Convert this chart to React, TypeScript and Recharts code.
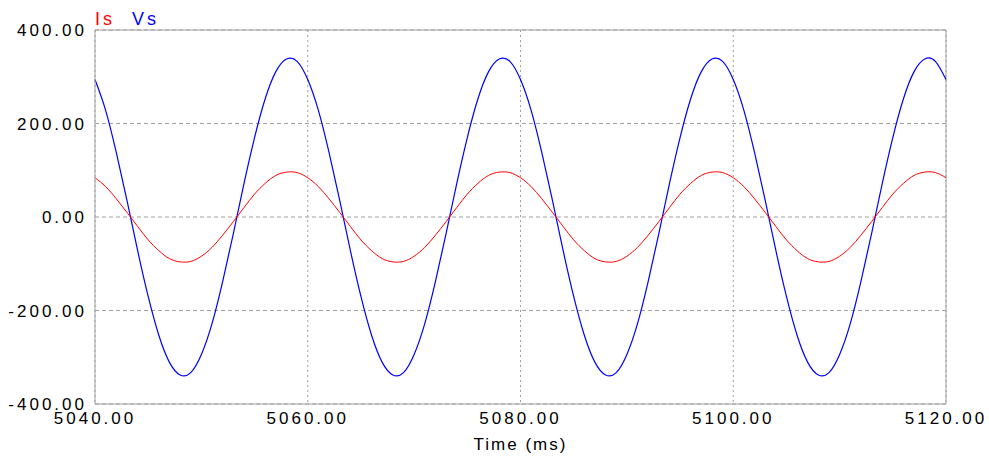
import React from "react";
import { LineChart, Line, XAxis, YAxis, CartesianGrid, ReferenceLine } from "recharts";

const timeMs = [
  5040, 5041, 5042, 5043, 5044, 5045, 5046, 5047, 5048, 5049,
  5050, 5051, 5052, 5053, 5054, 5055, 5056, 5057, 5058, 5059,
  5060, 5061, 5062, 5063, 5064, 5065, 5066, 5067, 5068, 5069,
  5070, 5071, 5072, 5073, 5074, 5075, 5076, 5077, 5078, 5079,
  5080, 5081, 5082, 5083, 5084, 5085, 5086, 5087, 5088, 5089,
  5090, 5091, 5092, 5093, 5094, 5095, 5096, 5097, 5098, 5099,
  5100, 5101, 5102, 5103, 5104, 5105, 5106, 5107, 5108, 5109,
  5110, 5111, 5112, 5113, 5114, 5115, 5116, 5117, 5118, 5119,
  5120,
];

const vs = [
  294, 228, 138, 36, -71, -170, -253, -311, -338, -333,
  -294, -228, -138, -36, 71, 170, 253, 311, 338, 333,
  294, 228, 138, 36, -71, -170, -253, -311, -338, -333,
  -294, -228, -138, -36, 71, 170, 253, 311, 338, 333,
  294, 228, 138, 36, -71, -170, -253, -311, -338, -333,
  -294, -228, -138, -36, 71, 170, 253, 311, 338, 333,
  294, 228, 138, 36, -71, -170, -253, -311, -338, -333,
  -294, -228, -138, -36, 71, 170, 253, 311, 338, 333,
  294,
];

const is = [
  84, 65, 39, 10, -20, -49, -72, -89, -96, -95,
  -84, -65, -39, -10, 20, 49, 72, 89, 96, 95,
  84, 65, 39, 10, -20, -49, -72, -89, -96, -95,
  -84, -65, -39, -10, 20, 49, 72, 89, 96, 95,
  84, 65, 39, 10, -20, -49, -72, -89, -96, -95,
  -84, -65, -39, -10, 20, 49, 72, 89, 96, 95,
  84, 65, 39, 10, -20, -49, -72, -89, -96, -95,
  -84, -65, -39, -10, 20, 49, 72, 89, 96, 95,
  84,
];

const xTicks = [5040, 5060, 5080, 5100, 5120];
const yTicks = [-400, -200, 0, 200, 400];

const data = timeMs.map((t, i) => ({ t, Is: is[i], Vs: vs[i] }));

const FONT = "'Liberation Sans', Arial, sans-serif";
const tickStyle = { fontFamily: FONT, fontSize: 17, fill: "#000", letterSpacing: 3 };
const fmt = (v: number) => v.toFixed(2);

export default function App() {
  return (
    <div style={{ position: "absolute", left: 0, top: 0, width: 989, height: 457, background: "#fff" }}>
      <div
        style={{
          position: "absolute",
          left: 95,
          top: 9,
          fontFamily: FONT,
          fontSize: 18,
          letterSpacing: 3,
          lineHeight: "20px",
          whiteSpace: "nowrap",
        }}
      >
        <span style={{ color: "#ff0000" }}>Is</span>
        <span style={{ color: "#0000ff", marginLeft: 17 }}>Vs</span>
      </div>
      <LineChart
        width={989}
        height={457}
        data={data}
        margin={{ top: 30, right: 43, bottom: 13, left: 0 }}
      >
        <CartesianGrid vertical={false} stroke="#a0a0a0" strokeDasharray="4 3" />
        <CartesianGrid horizontal={false} stroke="#a0a0a0" strokeDasharray="2 3" />
        <XAxis
          dataKey="t"
          type="number"
          domain={[5040, 5120]}
          ticks={xTicks}
          tickFormatter={fmt}
          tickLine={false}
          axisLine={{ stroke: "#a0a0a0" }}
          tick={tickStyle}
          height={40}
          interval={0}
          label={{
            value: "Time (ms)",
            position: "insideBottom",
            offset: -6,
            style: { fontFamily: FONT, fontSize: 17, fill: "#000", letterSpacing: 2 },
          }}
        />
        <YAxis
          type="number"
          domain={[-400, 400]}
          ticks={yTicks}
          tickFormatter={fmt}
          tickLine={false}
          axisLine={{ stroke: "#a0a0a0" }}
          tick={tickStyle}
          width={95}
          interval={0}
        />
        <ReferenceLine y={400} stroke="#a0a0a0" />
        <ReferenceLine x={5120} stroke="#a0a0a0" />
        <Line
          type="natural"
          dataKey="Vs"
          stroke="#0000ff"
          strokeWidth={1.2}
          dot={false}
          isAnimationActive={false}
        />
        <Line
          type="natural"
          dataKey="Is"
          stroke="#ff0000"
          strokeWidth={1}
          dot={false}
          isAnimationActive={false}
        />
      </LineChart>
    </div>
  );
}
